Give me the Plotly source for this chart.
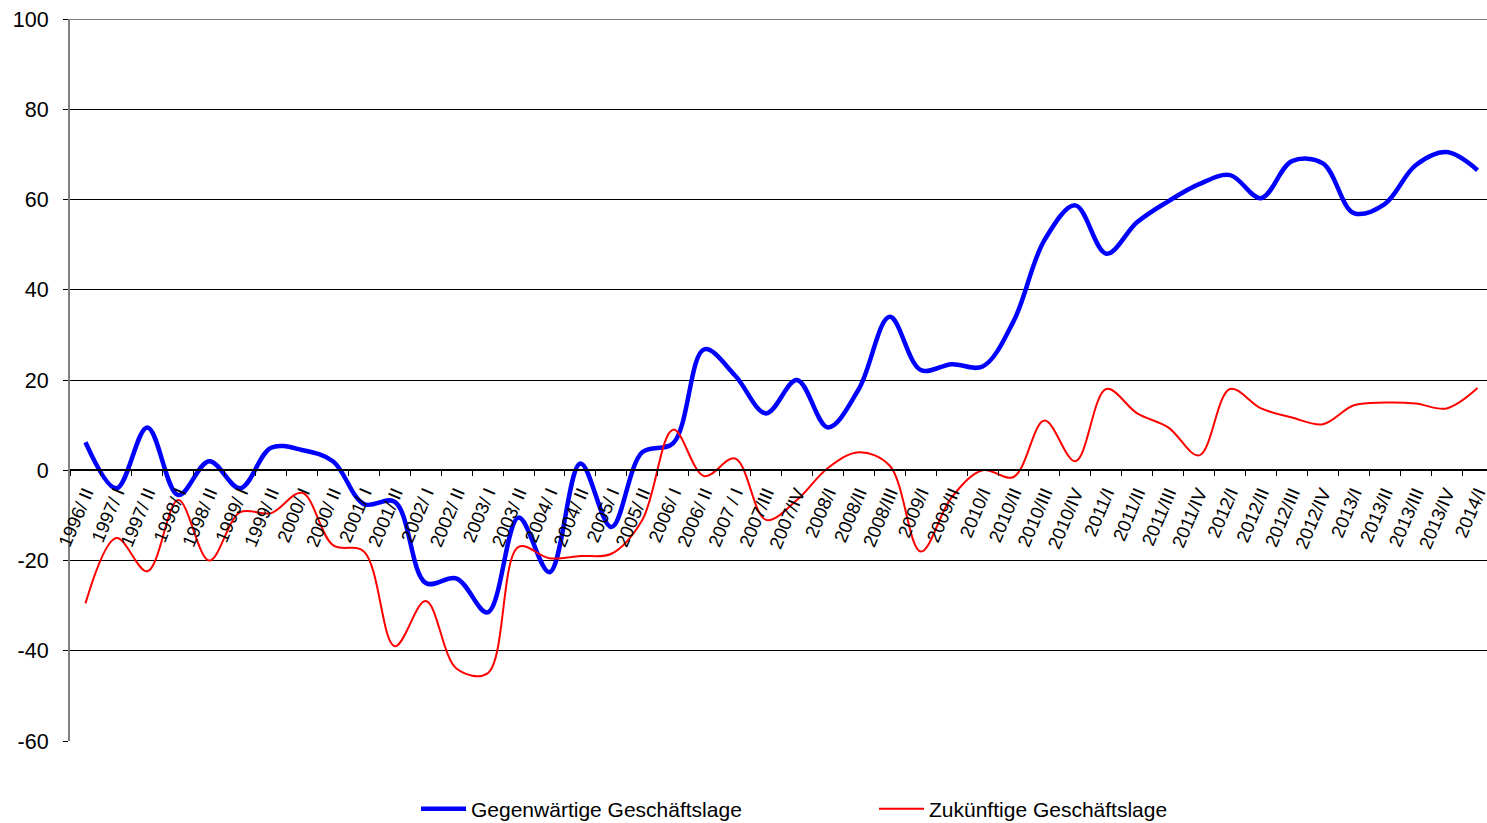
import plotly.graph_objects as go

categories = ["1996/ II", "1997/ I", "1997/ II", "1998/ I", "1998/ II", "1999/ I", "1999/ II",
              "2000/ I", "2000/ II", "2001/ I", "2001/ II", "2002/ I", "2002/ II", "2003/ I",
              "2003/ II", "2004/ I", "2004/ II", "2005/ I", "2005/ II", "2006/ I", "2006/ II",
              "2007 / I", "2007/III", "2007/IV", "2008/I", "2008/II", "2008/III", "2009/I",
              "2009/II", "2010/I", "2010/II", "2010/III", "2010/IV", "2011/I", "2011/II",
              "2011/III", "2011/IV", "2012/I", "2012/II", "2012/III", "2012/IV", "2013/I",
              "2013/II", "2013/III", "2013/IV", "2014/I"]

gegenwaertig = [6.2, -4, 9.5, -5.5, 2, -4, 5, 4.5, 2, -7.5, -7, -25, -24, -31.5, -10.5,
                -22.6, 1.5, -12.6, 4, 6, 26.8, 21, 12.6, 20, 9.5, 18, 34, 22.2, 23.5, 23,
                33, 51, 58.7, 48, 55, 59.6, 63.4, 65.4, 60.3, 68.5, 68, 57, 59, 67.6, 70.5, 66.5]

zukuenftig = [-29.5, -15, -22.4, -6.6, -20, -9.3, -9.5, -5, -16.6, -18, -39, -29, -44, -45,
              -17, -19.5, -19, -18.5, -11, 9, -1.3, 2.6, -11, -6.6, 0.5, 4, 1, -18, -6, 0,
              -1.5, 11, 2, 18, 12.6, 9.5, 3.3, 18, 13.7, 11.7, 10.2, 14.4, 15, 14.8, 13.7, 18.2]

y_ticks = [-60, -40, -20, 0, 20, 40, 60, 80, 100]
y_ticktext = ["-60", "-40", "-20", "0", "20", "40", "60", "80", "100"]

fig = go.Figure()
fig.add_trace(go.Scatter(x=categories, y=gegenwaertig, mode="lines",
                         name="Gegenwärtige Geschäftslage",
                         line=dict(color="#0000FF", width=4.5, shape="spline", smoothing=1)))
fig.add_trace(go.Scatter(x=categories, y=zukuenftig, mode="lines",
                         name="Zukünftige Geschäftslage",
                         line=dict(color="#FF0000", width=2, shape="spline", smoothing=1)))

# top gridline (plotly omits gridlines at the range edge)
fig.add_shape(type="line", xref="paper", x0=0, x1=1, yref="y", y0=y_ticks[-1], y1=y_ticks[-1],
              line=dict(color="black", width=1), layer="below")

# plot area extends slightly past the window on the right, as in the original;
# extra height below the visible window keeps the legend from pushing the margins
fig.update_layout(
    width=1493, height=900,
    margin=dict(l=70, r=0, t=19, b=159),
    paper_bgcolor="white", plot_bgcolor="white",
    font=dict(family="Liberation Sans, Arial, sans-serif", color="black"),
    showlegend=True,
    legend=dict(orientation="h", x=(418 - 70 - 2) / 1423, xanchor="left",
                y=-0.0942, yanchor="middle",
                font=dict(size=21), entrywidth=398, entrywidthmode="pixels",
                itemwidth=45),
    xaxis=dict(type="category", anchor="free", position=60 / 160, automargin=False,
               showline=True, linecolor="black", linewidth=1.5,
               ticks="outside", ticklen=5, tickcolor="black", tickson="boundaries",
               tickangle=-67, tickfont=dict(size=18.5), ticklabelstandoff=4,
               showgrid=False, zeroline=False,
               range=[-0.5, len(categories) - 0.5]),
    yaxis=dict(range=[-60, 100], tickvals=y_ticks, ticktext=y_ticktext, automargin=False,
               showgrid=True, gridcolor="black",
               gridwidth=1, zeroline=False, showline=True, linecolor="#808080", linewidth=2,
               ticks="outside", ticklen=5, tickcolor="black", tickfont=dict(size=21.5),
               ticklabelstandoff=10, ticklabeloverflow="allow"),
)

post = ("document.body.style.margin='0';"
        "document.body.style.overflow='hidden';"
        "document.documentElement.style.overflow='hidden';")

fig.write_html("out.html", post_script=post, config={"displayModeBar": False})
